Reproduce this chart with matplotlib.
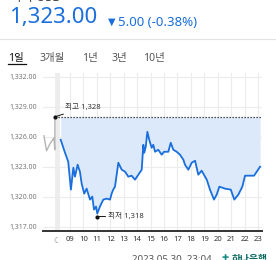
import matplotlib.pyplot as plt

plt.rcParams['font.family'] = ['Noto Sans', 'Noto Sans CJK KR', 'DejaVu Sans']

# pre-market (grey) series
PRE_H = [7.06, 7.26, 7.51, 7.81, 7.87, 7.88]
PRE_V = [1326.1, 1324.6, 1325.3, 1325.9, 1324.7, 1328.0]

# intraday series
HOURS = [8.31, 8.63, 8.87, 9.07, 9.25, 9.37, 9.57, 9.74, 9.87, 10.06, 10.24, 10.49,
         10.66, 10.79, 10.94, 11.03, 11.23, 11.48, 11.73, 11.98, 12.10, 12.22, 12.35,
         12.60, 12.85, 13.10, 13.34, 13.59, 13.84, 14.09, 14.34, 14.46, 14.53, 14.64,
         14.76, 14.90, 15.08, 15.20, 15.33, 15.57, 15.83, 16.00, 16.32, 16.50, 16.69,
         16.94, 17.19, 17.44, 17.56, 17.81, 18.06, 18.31, 18.55, 18.80, 19.18, 19.42,
         19.72, 19.92, 20.12, 20.54, 20.97, 21.23, 21.53, 21.83, 22.03, 22.40, 22.70,
         23.15]
PRICE = [1325.7, 1324.4, 1323.5, 1320.7, 1322.9, 1322.0, 1323.2, 1322.5, 1321.3,
         1320.3, 1320.8, 1319.7, 1320.0, 1318.7, 1319.0, 1318.3, 1319.0, 1319.7,
         1319.8, 1319.7, 1320.3, 1320.7, 1321.0, 1323.4, 1322.7, 1322.5, 1322.0,
         1322.1, 1321.7, 1322.2, 1322.7, 1325.2, 1324.4, 1325.0, 1326.5, 1325.7,
         1324.9, 1325.2, 1324.5, 1324.7, 1324.2, 1324.5, 1324.5, 1325.4, 1324.7,
         1324.5, 1324.2, 1323.7, 1323.2, 1322.7, 1323.4, 1323.6, 1322.2, 1322.6,
         1321.7, 1320.7, 1319.7, 1320.2, 1321.0, 1320.8, 1320.7, 1319.7, 1320.2,
         1321.0, 1322.1, 1322.1, 1322.1, 1323.0]

PREV_CLOSE = 1328.0
HIGH = (7.88, 1328.0)
LOW = (11.03, 1318.0)

Y_TICKS = [1317, 1320, 1323, 1326, 1329, 1332]
Y_LABELS = ['1,317.00', '1,320.00', '1,323.00', '1,326.00', '1,329.00', '1,332.00']
X_TICKS = [8, 9, 10, 11, 12, 13, 14, 15, 16, 17, 18, 19, 20, 21, 22, 23]
X_LABELS = ['☾', '09', '10', '11', '12', '13', '14', '15', '16', '17', '18', '19',
            '20', '21', '22', '23']
TABS = ['1일', '3개월', '1년', '3년', '10년']
TAB_X = [8, 40, 82, 112, 143]

W, H = 276, 260
BLUE = '#1a6fdc'

fig = plt.figure(figsize=(W / 100, H / 100), dpi=100)


def ftext(x, y, s, **kw):
    fig.text(x / W, 1 - y / H, s, **kw)


# header
ftext(10, -2, '미국 USD', fontsize=9, color='#444444', va='center')
ftext(9, 18, '1,323.00', fontsize=16, color=BLUE, va='center')
ftext(108, 22, '▼', fontsize=7, color=BLUE, va='center', family='DejaVu Sans')
ftext(118, 22, '5.00 (-0.38%)', fontsize=9.5, color=BLUE, va='center')
fig.add_artist(plt.Line2D([0, 1], [1 - 39 / H] * 2, color='#e3e3e3', lw=0.8))

for tx, tab in zip(TAB_X, TABS):
    c = '#111111' if tab == '1일' else '#555555'
    ftext(tx, 58, tab, fontsize=7.5, color=c, va='center')
fig.add_artist(plt.Line2D([8 / W, 26 / W], [1 - 64 / H] * 2, color='#111111', lw=0.9))

# chart
ax = fig.add_axes([42.7 / W, 1 - 230.7 / H, (261.7 - 42.7) / W, (230.7 - 73) / H])
ax.set_xlim(6.97, 23.27)
ax.set_ylim(1316.58, 1332.4)

ax.axvspan(7.88, 8.27, color='#eeeeee', lw=0, zorder=0)
ax.fill_between(HOURS, PRICE, PREV_CLOSE, color='#dbe9fb', lw=0, zorder=1)
ax.plot(PRE_H, PRE_V, color='#b5b5b5', lw=1.0, zorder=2)
ax.plot(HOURS, PRICE, color=BLUE, lw=1.3, zorder=3)
ax.plot([HIGH[0], 23.27], [PREV_CLOSE, PREV_CLOSE], color='#222222', lw=0.9,
        ls=(0, (1, 1.4)), zorder=4)

ax.plot(*HIGH, 'o', color='#111111', ms=2, zorder=5)
ax.annotate('최고 1,328', xy=HIGH, xytext=(7, 4), textcoords='offset points',
            fontsize=5.5, color='#333333', va='bottom', ha='left',
            arrowprops=dict(arrowstyle='-', color='#111111', lw=0.7, shrinkA=0, shrinkB=0))
ax.plot(*LOW, 'o', color='#111111', ms=2, zorder=5)
ax.annotate('최저 1,318', xy=LOW, xytext=(8, 0), textcoords='offset points',
            fontsize=5.5, color='#333333', va='center', ha='left',
            arrowprops=dict(arrowstyle='-', color='#111111', lw=0.7, shrinkA=0, shrinkB=0))

ax.set_yticks(Y_TICKS)
ax.set_yticklabels(Y_LABELS)
ax.set_xticks(X_TICKS)
ax.set_xticklabels(X_LABELS)
ax.tick_params(axis='y', length=0, labelsize=5, labelcolor='#777777', pad=4)
ax.tick_params(axis='x', length=0, labelsize=5.5, labelcolor='#333333', pad=4)
ax.get_xticklabels()[0].set_family('DejaVu Sans')
ax.get_xticklabels()[0].set_color('#888888')
ax.grid(True, color='#ececec', lw=0.8)
ax.set_axisbelow(True)
for s in ['top', 'right', 'left']:
    ax.spines[s].set_visible(False)
ax.spines['bottom'].set_color('#333333')
ax.spines['bottom'].set_linewidth(1.4)

# footer
ftext(132, 259, '2023.05.30. 23:04', fontsize=7, color='#555555', va='center')
ftext(222, 257, '✚', fontsize=6, color='#0f8a80', va='center', family='DejaVu Sans')
ftext(232, 259, '하나은행', fontsize=7, color='#0b6b60', va='center', weight='bold')

fig.savefig('out.png', dpi=100)
